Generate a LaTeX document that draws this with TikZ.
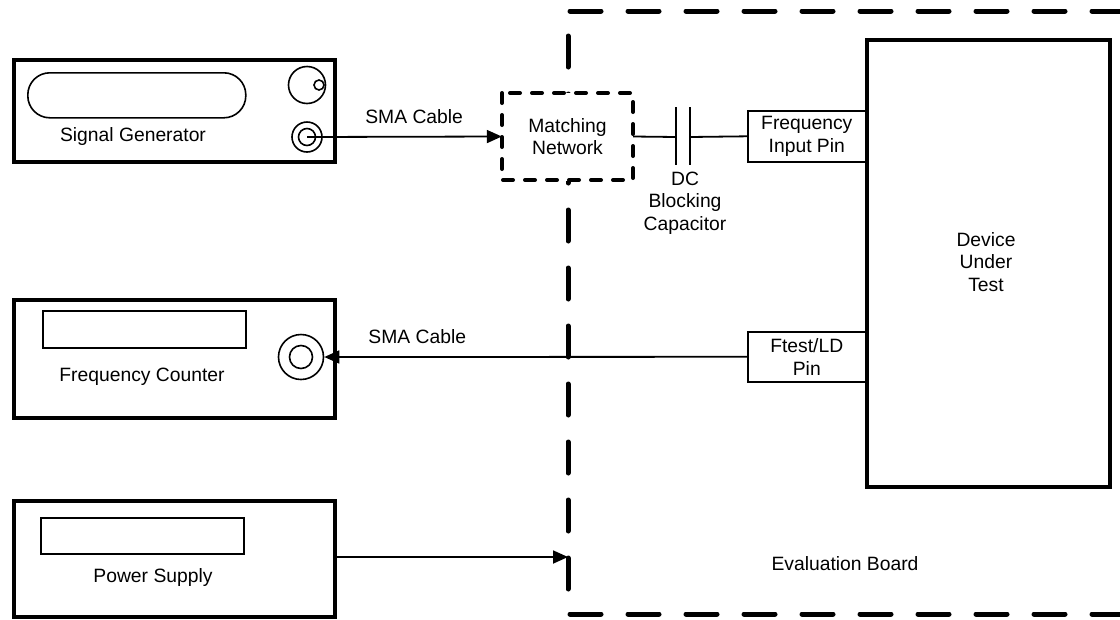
\documentclass[tikz,border=0pt]{standalone}
\usepackage{fontspec}
\setmainfont{Liberation Sans}
\usetikzlibrary{arrows.meta,calc}
\begin{document}
\begin{tikzpicture}[x=1pt,y=-1pt,
  every node/.style={font=\fontsize{19.3}{22.5}\selectfont, inner sep=0pt, align=center},
  instr/.style={draw, line width=4pt, minimum width=321pt, minimum height=#1, anchor=north west},
  disp/.style={draw, line width=1.6pt, minimum width=203pt, minimum height=37pt, anchor=north west},
  pinbox/.style={draw, line width=1.6pt, minimum width=118pt, minimum height=51pt, anchor=north west},
  conn/.style={line width=1.8pt},
  tip/.style={-{Triangle[length=15pt,width=13pt]}},
  board/.style={line width=5pt, dash pattern=on 31pt off 27pt, line cap=round},
  mndash/.style={line width=4pt, dash pattern=on 10pt off 12pt, line cap=round},
  ring/.style={circle, draw, line width=1.6pt, minimum size=#1}
]
\useasboundingbox (0,0) rectangle (1120,619);
% evaluation board
\draw[board] (1123,11) -- (568,11) -- (568,614) -- (1123,614);
\draw[line width=5pt, draw=black!25, dash pattern=on 31pt off 27pt] (1123,11) -- (1123,614);
\coordinate (bw) at (568,300);
\node at (845,564) (evb) {Evaluation Board};

% signal generator
\node[instr=102pt] (sg) at (12,58) {};
\node[draw, line width=1.6pt, rounded corners=22pt, minimum width=218pt, minimum height=45pt, anchor=north west] (sgdisp) at (27,72) {};
\node at (133,137) (sgtxt) {Signal Generator};
\node[ring=37pt] (knob) at (307,85) {};
\node[ring=10pt] (knobdot) at (319,85) {};
\node[ring=30pt] (sgout) at (307,137) {};
\node[ring=17pt] (sgin) at (307,137) {};

% matching network
\node[draw=white, fill=white, minimum width=131pt, minimum height=87pt, anchor=north west] (mnbg) at (502,93) {};
\draw[mndash] (502,93) rectangle (633,180);
\node (mn) at (567.5,136.5) [minimum width=131pt, minimum height=87pt] {Matching\\Network};

% capacitor
\coordinate (p1) at (676,137);
\coordinate (p2) at (690,137);
\draw[conn] (676,107) -- (676,165);
\draw[conn] (690,107) -- (690,165);
\node at (685,203) (dctxt) {DC\\Blocking\\Capacitor};

% DUT
\node[draw, line width=4pt, minimum width=243pt, minimum height=447pt, anchor=north west] (dut) at (865,38) {};
\node at (986,262) (duttxt) {Device\\Under\\Test};
\node[pinbox] (fip) at (747,110) {};
\node at (fip.center) (fiptxt) {Frequency\\Input Pin};
\node[pinbox, minimum height=50pt] (ftp) at (747,331) {};
\node at (ftp.center) (ftptxt) {Ftest/LD\\Pin};

% frequency counter
\node[instr=118pt] (fc) at (12,298) {};
\node[disp] (fcdisp) at (42,310) {};
\node at (142,377) (fctxt) {Frequency Counter};
\node[ring=45pt] (fcout) at (301,357) {};
\node[ring=23pt] (fcin) at (301,357) {};

% power supply
\node[instr=116pt] (ps) at (12,499) {};
\node[disp, minimum width=203pt, minimum height=36pt] (psdisp) at (40,517) {};
\node at (153,578) (pstxt) {Power Supply};

% connectors
\draw[conn, tip] (sgin.center) -- (mn.west) node[pos=0.55, yshift=20pt] {SMA Cable};
\draw[conn] (mn.east) -- (p1);
\draw[conn] (p2) -- (fip.west);
\draw[conn, tip] (ftp.west) -- (fcout.east) node[pos=0.78, yshift=20pt] {SMA Cable};
\draw[conn, tip] (ps.east |- 0,557) -- (bw |- 0,557);
\end{tikzpicture}
\end{document}
